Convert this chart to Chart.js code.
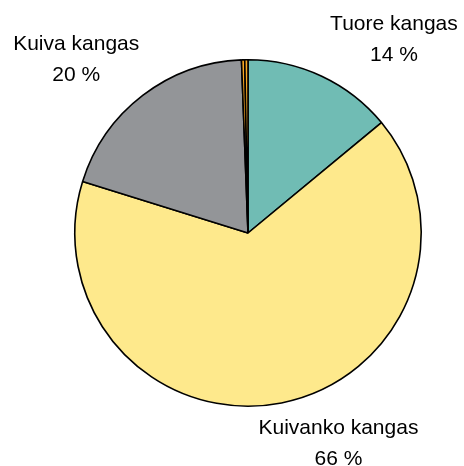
<!DOCTYPE html>
<html>
<head>
<meta charset="utf-8">
<script src="https://cdn.jsdelivr.net/npm/chart.js@4/dist/chart.umd.min.js"></script>
<style>
  html, body { margin: 0; padding: 0; background: #fff; }
  #wrap { width: 464px; height: 466px; }
</style>
</head>
<body>
<div id="wrap"><canvas id="myChart" width="464" height="466"></canvas></div>
<script>
const categories = ["Tuore kangas", "Kuivanko kangas", "Kuiva kangas", "Muu 1", "Muu 2"];
const shares = [14.0, 65.8, 19.6, 0.3, 0.3];
const shownLabels = ["14 %", "66 %", "20 %", null, null];
const colors = ["#70bcb4", "#fee98c", "#939598", "#f7a823", "#f7a823"];

// where each label sits: angle from top (deg, clockwise) and distance in radii
const labelPlace = [
  { angle: 37, dist: 1.40 },
  { angle: 156.7, dist: 1.32 },
  { angle: 315.3, dist: 1.41 }
];

const outsideLabels = {
  id: "outsideLabels",
  afterDatasetsDraw(chart) {
    const ctx = chart.ctx;
    const meta = chart.getDatasetMeta(0);
    ctx.save();
    ctx.font = "21px 'Liberation Sans', Arial, sans-serif";
    ctx.fillStyle = "#000";
    ctx.textAlign = "center";
    ctx.textBaseline = "middle";
    meta.data.forEach((arc, i) => {
      if (!shownLabels[i]) return;
      const p = labelPlace[i];
      const a = p.angle * Math.PI / 180;
      const r = arc.outerRadius * p.dist;
      const x = arc.x + r * Math.sin(a);
      const y = arc.y - r * Math.cos(a);
      ctx.fillText(categories[i], x, y - 15);
      ctx.fillText(shownLabels[i], x, y + 16);
    });
    ctx.restore();
  }
};

new Chart(document.getElementById("myChart").getContext("2d"), {
  type: "pie",
  data: {
    labels: categories,
    datasets: [{
      data: shares,
      backgroundColor: colors,
      borderColor: "#000",
      borderWidth: 1.6
    }]
  },
  options: {
    responsive: false,
    animation: false,
    layout: { padding: { left: 74, right: 42, top: 59, bottom: 59 } },
    plugins: {
      legend: { display: false },
      tooltip: { enabled: false }
    }
  },
  plugins: [outsideLabels]
});
</script>
</body>
</html>
